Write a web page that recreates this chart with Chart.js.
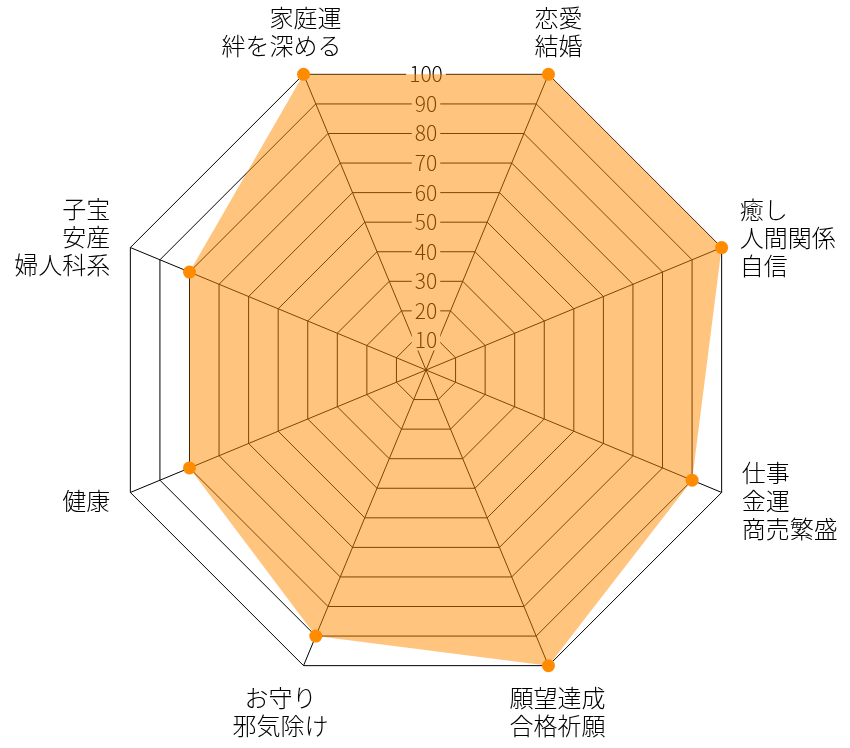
<!DOCTYPE html>
<html lang="ja">
<head>
<meta charset="utf-8">
<title>運勢レーダー</title>
<script src="https://cdn.jsdelivr.net/npm/chart.js@4.4.1/dist/chart.umd.min.js"></script>
<style>
  html, body { margin: 0; padding: 0; background: #fff; }
  #wrap { position: relative; width: 850px; height: 748px; }
</style>
</head>
<body>
<div id="wrap"><canvas id="chart"></canvas></div>
<script>
// spoke labels, clockwise from the upper-left spoke
var categories = [
  ["家庭運", "絆を深める"],
  ["恋愛", "結婚"],
  ["癒し", "人間関係", "自信"],
  ["仕事", "金運", "商売繁盛"],
  ["願望達成", "合格祈願"],
  ["お守り", "邪気除け"],
  ["健康"],
  ["子宝", "安産", "婦人科系"]
];
var scores = [100, 100, 100, 90, 100, 90, 80, 80];
var tickValues = [10, 20, 30, 40, 50, 60, 70, 80, 90, 100];

var FONT = '"Noto Sans CJK JP", "Noto Sans", sans-serif';

// Tick labels sit on the flat top edge of each ring, not on a spoke,
// so they are drawn here (before the dataset so the fill tints them).
var tickLabels = {
  id: "tickLabels",
  beforeDatasetsDraw: function (chart) {
    var s = chart.scales.r, ctx = chart.ctx;
    var k = Math.cos(Math.PI / categories.length);
    ctx.save();
    ctx.font = "300 21px " + FONT;
    ctx.textAlign = "center";
    ctx.textBaseline = "middle";
    tickValues.forEach(function (v) {
      var y = s.yCenter - s.getDistanceFromCenterForValue(v) * k;
      var w = ctx.measureText(String(v)).width + 6;
      ctx.fillStyle = "#fff";
      ctx.fillRect(s.xCenter - w / 2, y - 10, w, 20);
      ctx.fillStyle = "#000";
      ctx.fillText(String(v), s.xCenter, y);
    });
    ctx.restore();
  }
};

// [align, dx, dy of block centre] relative to each outer vertex
var LABEL_PLACE = [
  ["right", 38, -42], ["center", 10, -42], ["left", 18, -10], ["left", 20, 8],
  ["center", 9, 46], ["center", -23, 46], ["right", -20, 8], ["right", -20, -11]
];
var LINE_H = 28;

var spokeLabels = {
  id: "spokeLabels",
  afterDraw: function (chart) {
    var s = chart.scales.r, ctx = chart.ctx;
    ctx.save();
    ctx.font = "300 24px " + FONT;
    ctx.fillStyle = "#000";
    ctx.textBaseline = "middle";
    categories.forEach(function (lines, i) {
      var p = s.getPointPosition(i, s.drawingArea);
      var place = LABEL_PLACE[i];
      ctx.textAlign = place[0];
      var y0 = p.y + place[2] - (lines.length - 1) * LINE_H / 2;
      lines.forEach(function (t, j) {
        ctx.fillText(t, p.x + place[1], y0 + j * LINE_H);
      });
    });
    ctx.restore();
  }
};

new Chart(document.getElementById("chart"), {
  type: "radar",
  data: {
    labels: categories,
    datasets: [{
      data: scores,
      fill: true,
      backgroundColor: "rgba(255,140,0,0.5)",
      borderColor: "rgba(0,0,0,0)",
      borderWidth: 0,
      pointRadius: 6.5,
      pointHoverRadius: 6.5,
      pointBackgroundColor: "#ff8c00",
      pointBorderWidth: 0
    }]
  },
  options: {
    responsive: true,
    maintainAspectRatio: false,
    animation: false,
    layout: { padding: { left: 106, right: 104, top: 50, bottom: 58 } },
    plugins: { legend: { display: false }, tooltip: { enabled: false } },
    scales: {
      r: {
        min: 0, max: 100,
        startAngle: -22.5,
        ticks: { display: false, stepSize: 10 },
        grid: { color: "#000", lineWidth: 1 },
        angleLines: { color: "#000", lineWidth: 1 },
        pointLabels: { display: false }
      }
    }
  },
  plugins: [tickLabels, spokeLabels]
});
</script>
</body>
</html>
